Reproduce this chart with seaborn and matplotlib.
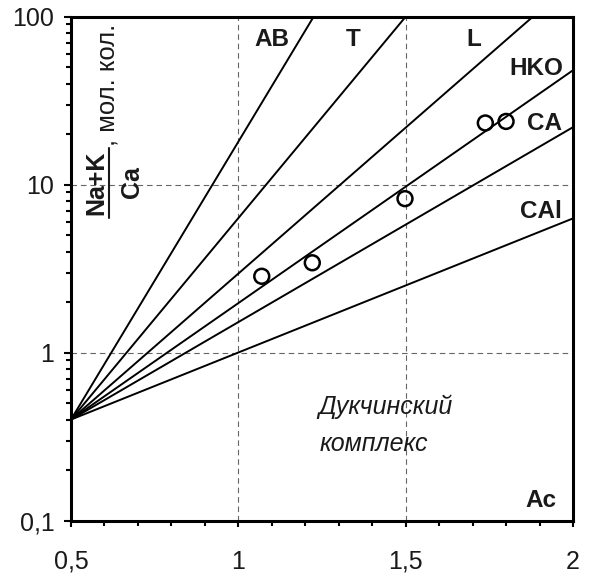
import numpy as np
import pandas as pd
import matplotlib
matplotlib.use('Agg')
import matplotlib.pyplot as plt
import seaborn as sns
from matplotlib.ticker import FixedLocator, MultipleLocator, FuncFormatter, LogLocator, NullFormatter

# data
line_names = ['AB', 'T', 'L', 'HKO', 'CA', 'CAl']
line_start = (0.5, 0.4)                     # all lines meet here
line_end_x = [1.225, 1.5, 1.88, 2.0, 2.0, 2.0]
line_end_y = [100, 100, 100, 48, 22, 6.3]

# line labels (x, y, text)
label_x = [1.152, 1.364, 1.724, 1.971, 1.966, 1.966]
label_y = [73, 73, 73, 49, 23.2, 6.9]
label_txt = ['AB', 'T', 'L', 'HKO', 'CA', 'CAl']

# sample points (Дукчинский комплекс)
pts_x = [1.07, 1.221, 1.498, 1.738, 1.80]
pts_y = [2.85, 3.43, 8.26, 23.3, 23.8]

x_ticks = [0.5, 1, 1.5, 2]
y_ticks = [0.1, 1, 10, 100]

sns.set_theme(style='white')
plt.rcParams['font.family'] = ['Liberation Sans', 'DejaVu Sans']

rows = []
for name, xe, ye in zip(line_names, line_end_x, line_end_y):
    rows.append({'line': name, 'x': line_start[0], 'y': line_start[1]})
    rows.append({'line': name, 'x': xe, 'y': ye})
lines_df = pd.DataFrame(rows)

fig = plt.figure(figsize=(5.89, 5.77), dpi=100)
ax = fig.add_axes([71 / 589, 1 - 520.7 / 577, 502 / 589, 504 / 577])
ax.set_yscale('log')

sns.lineplot(data=lines_df, x='x', y='y', units='line', estimator=None,
             color='black', linewidth=1.4, legend=False, ax=ax)
sns.scatterplot(x=pts_x, y=pts_y, s=115, marker='o', facecolors='none',
                edgecolors='black', linewidths=1.8, ax=ax, zorder=5)

ax.set_xlim(0.5, 2)
ax.set_ylim(0.1, 100)

# comma decimal labels
def comma_fmt(v, pos):
    s = ('%g' % v).replace('.', ',')
    return s

ax.xaxis.set_major_locator(FixedLocator(x_ticks))
ax.xaxis.set_minor_locator(MultipleLocator(0.1))
ax.xaxis.set_major_formatter(FuncFormatter(comma_fmt))
ax.yaxis.set_major_locator(FixedLocator(y_ticks))
ax.yaxis.set_minor_locator(LogLocator(base=10, subs=np.arange(2, 10)))
ax.yaxis.set_major_formatter(FuncFormatter(comma_fmt))
ax.yaxis.set_minor_formatter(NullFormatter())

ax.tick_params(axis='x', which='both', direction='out', bottom=True, top=False,
               width=1.5, color='black', labelsize=18, pad=17,
               labelcolor='#1a1a1a')
ax.tick_params(axis='x', which='major', length=4)
ax.tick_params(axis='x', which='minor', length=3.5)
ax.tick_params(axis='y', which='both', direction='out', left=True, right=False,
               width=1.5, color='black', labelsize=18, pad=7,
               labelcolor='#1a1a1a')
ax.tick_params(axis='y', which='major', length=5)
ax.tick_params(axis='y', which='minor', length=3.5)

ax.grid(True, which='major', color='#666666', linestyle=(0, (5, 3.5)), linewidth=0.8)
for sp in ax.spines.values():
    sp.set_color('black')
    sp.set_linewidth(2.2)

ax.set_xlabel('')
ax.set_ylabel('')

for x, y, t in zip(label_x, label_y, label_txt):
    ax.text(x, y, t, ha='right', va='center', fontsize=17.5, fontweight='bold',
            color='#1a1a1a')

ax.text(1.951, 0.131, 'Ac', ha='right', va='center', fontsize=17.5,
        fontweight='bold', color='#1a1a1a')
ax.text(1.239, 0.474, 'Дукчинский', ha='left', va='center', fontsize=18,
        style='italic', color='#1a1a1a')
ax.text(1.244, 0.287, 'комплекс', ha='left', va='center', fontsize=18,
        style='italic', color='#1a1a1a')

# y label as a fraction, inside the axes
ax.text(0.0498, 0.671, 'Na+K', transform=ax.transAxes, rotation=90,
        ha='center', va='center', fontsize=18, fontweight='bold', color='#1a1a1a')
ax.text(0.1215, 0.671, 'Ca', transform=ax.transAxes, rotation=90,
        ha='center', va='center', fontsize=18, fontweight='bold', color='#1a1a1a')
ax.plot([0.0757, 0.0757], [0.6004, 0.7393], transform=ax.transAxes,
        color='#1a1a1a', linewidth=1.5)
ax.text(0.0876, 0.7435, ', мол. кол.', transform=ax.transAxes, rotation=90,
        rotation_mode='anchor', ha='left', va='baseline', fontsize=18.5,
        color='#1a1a1a')

fig.savefig('out.png', dpi=100)
